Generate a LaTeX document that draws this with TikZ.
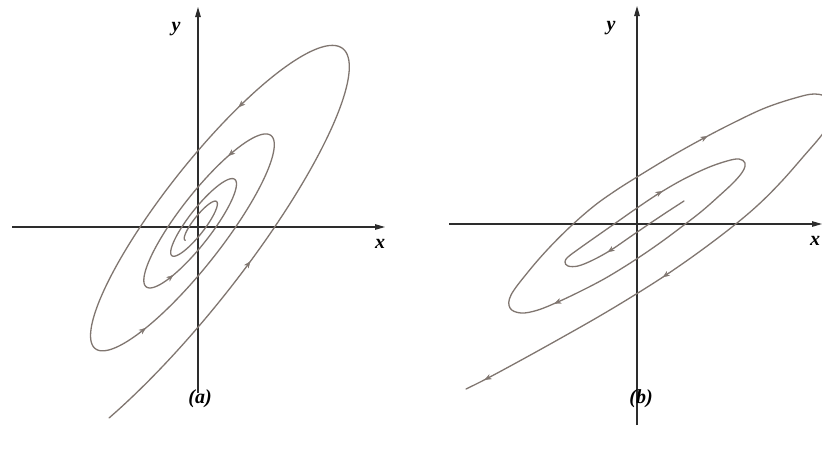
\documentclass[tikz,border=0pt]{standalone}
\usepackage{fontspec}
\setmainfont{Liberation Serif}
\usetikzlibrary{arrows.meta}
\definecolor{axiscol}{RGB}{45,45,45}
\definecolor{trajcol}{RGB}{128,118,112}
% spiral (a): x(t), y(t)
\newcommand\spax[1]{198+226*exp(-0.109*(#1))*(0.616*cos((#1) r)-0.1891*sin((#1) r))}
\newcommand\spay[1]{224-226*exp(-0.109*(#1))*(0.788*cos((#1) r)+0.1478*sin((#1) r))}
\newcommand\flowA[1]{\draw[flow] ({\spax{#1-0.06}},{\spay{#1-0.06}}) -- ({\spax{#1+0.04}},{\spay{#1+0.04}});}
\newcommand\flowtip[3]{\draw[flow] (#1,#2) ++(#3:-5) -- ++(#3:9);}
\begin{document}
\begin{tikzpicture}[x=1pt,y=-1pt,
  axisline/.style={draw=axiscol, line width=1.1pt, -{Triangle[length=10pt,width=5.5pt]}},
  traj/.style={draw=trajcol, line width=1.3pt, line join=round, line cap=round},
  flow/.style={draw=trajcol, fill=trajcol, line width=0.3pt, -{Stealth[length=7pt,width=5.5pt]}},
  lab/.style={font=\fontsize{20}{20}\selectfont\bfseries\itshape, inner sep=0pt, text=black}]
\useasboundingbox (0,0) rectangle (822,459);
\fill[white] (0,0) rectangle (822,459);

% ---------------- panel (a) ----------------
\coordinate (aXl) at (12,227);
\coordinate (aXr) at (385,227);
\coordinate (aYb) at (198,393);
\coordinate (aYt) at (198,7);
\draw[axisline] (aXl) -- (aXr);
\draw[axisline] (aYb) -- (aYt);
\node[lab] (ay) at (176,29) {y};
\node[lab] (ax) at (380,244) {x};
\node[lab] (acap) at (200,399) {(a)};

\draw[traj] plot[domain=-2.36:21.99, samples=600, smooth, variable=\t]
  ({\spax{\t}},{\spay{\t}});

\flowA{-1.6}
\flowA{0.92}
\flowA{3.8}
\flowA{7.05}
\flowA{10.12}

% ---------------- panel (b) ----------------
\coordinate (bXl) at (449,224);
\coordinate (bXr) at (822,224);
\coordinate (bYb) at (637,425);
\coordinate (bYt) at (637,6);
\draw[axisline] (bXl) -- (bXr);
\draw[axisline] (bYb) -- (bYt);
\node[lab] (by) at (611,28) {y};
\node[lab] (bx) at (815,241) {x};
\node[lab] (bcap) at (641,399) {(b)};

\draw[traj] plot[smooth, tension=0.6] coordinates {
(684,201) (667,212) (649,224) (630,237) (611,250) (593,260) (578,266) (568,266)
(565,262) (568,257) (580,248) (597,236) (617,222) (637,208) (658,194) (682,180)
(707,168) (727,161) (739,159) (745,163) (743,171) (734,182) (719,196) (702,211)
(684,225) (664,240) (644,254) (624,267) (604,279) (583,290) (560,301) (538,310)
(521,313) (510,308) (511,295) (528,272) (548,249) (571,226) (594,206) (615,191)
(637,177) (670,157) (704,138) (735,122) (765,108) (795,98) (815,94) (830,99)
(834,113) (824,132) (803,157) (781,182) (758,205) (732,227) (699,252) (666,275)
(633,296) (598,317) (561,338) (525,358) (488,378) (466,389)};

\flowtip{659}{193}{-31}
\flowtip{611}{250}{146}
\flowtip{558}{302}{157}
\flowtip{704}{138}{-29}
\flowtip{666}{275}{145}
\flowtip{488}{378}{152}
\end{tikzpicture}
\end{document}
